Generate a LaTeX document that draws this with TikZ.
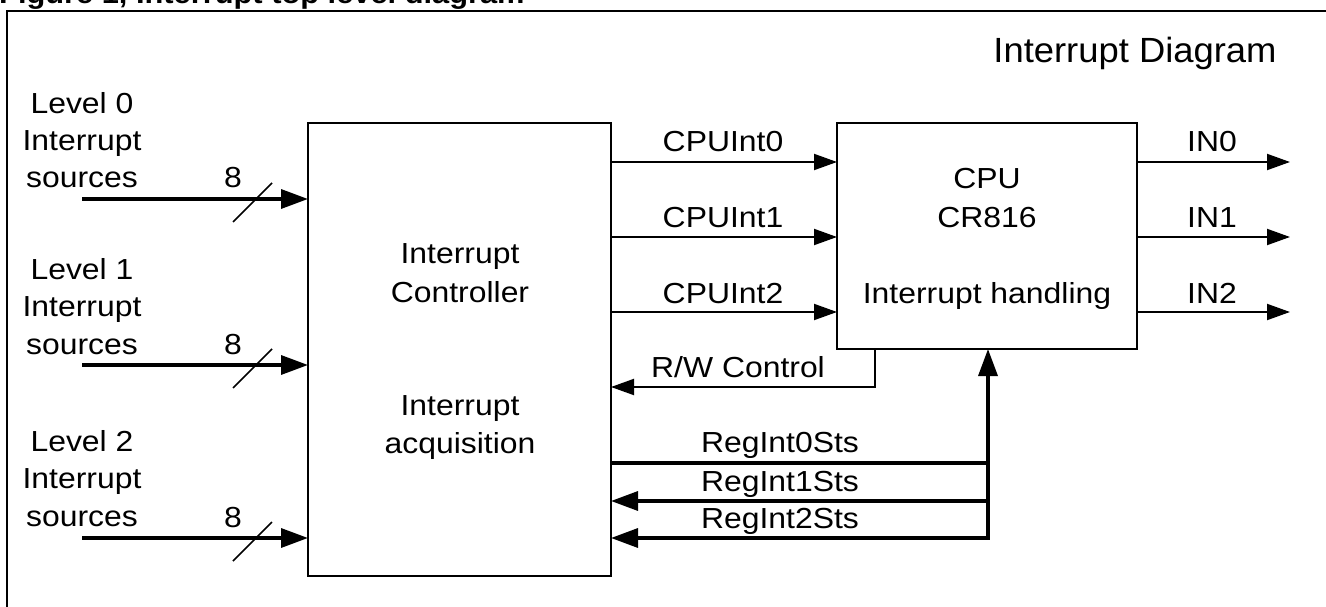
\documentclass[tikz,border=0pt]{standalone}
\usepackage{fontspec}
\setmainfont[FakeStretch=1.1]{Liberation Sans}
\newfontfamily\titlefont[FakeStretch=1.04]{Liberation Sans}
\usetikzlibrary{arrows.meta}
\begin{document}
\begin{tikzpicture}[x=1pt,y=-1pt,
  lbl/.style={inner sep=0pt, anchor=base, font=\fontsize{29}{35}\selectfont},
  box/.style={draw, line width=2pt, inner sep=0pt, outer sep=0pt},
  thinarr/.style={line width=2pt, -{Triangle[length=23pt,width=16pt]}},
  thickarr/.style={line width=3.4pt, -{Triangle[length=27pt,width=19pt]}},
  thickline/.style={line width=3.4pt},
  slashline/.style={line width=1.5pt},
  frameline/.style={line width=2pt}]
\useasboundingbox (0,0) rectangle (1326,607);
\clip (0,0) rectangle (1326,607);

% caption (cut at the top, as in the reference) and frame
\node[anchor=base west, inner sep=0pt, font=\bfseries\fontsize{28}{32}\selectfont] (cap) at (-1,3.5) {Figure 1, Interrupt top level diagram};
\draw[frameline] (7,640) -- (7,11) -- (1360,11);
\node[inner sep=0pt, anchor=base, font=\titlefont\fontsize{35}{40}\selectfont] (title) at (1135,63) {Interrupt Diagram};

% boxes
\node[box, minimum width=303pt, minimum height=453pt] (ctrl) at (459.5,349.5) {};
\node[box, minimum width=300pt, minimum height=226pt] (cpu) at (987,236) {};

% box texts
\node[lbl] (c1) at (460,263) {Interrupt};
\node[lbl] (c2) at (460,302) {Controller};
\node[lbl] (c3) at (460,415) {Interrupt};
\node[lbl] (c4) at (460,453) {acquisition};
\node[lbl] (p1) at (987,189) {CPU};
\node[lbl] (p2) at (987,227) {CR816};
\node[lbl] (p3) at (987,303) {Interrupt handling};

% input labels
\node[lbl] (l0a) at (82,114) {Level 0};
\node[lbl] (l0b) at (82,151) {Interrupt};
\node[lbl] (l0c) at (82,188) {sources};
\node[lbl] (l1a) at (82,279) {Level 1};
\node[lbl] (l1b) at (82,316) {Interrupt};
\node[lbl] (l1c) at (82,354) {sources};
\node[lbl] (l2a) at (82,451) {Level 2};
\node[lbl] (l2b) at (82,488) {Interrupt};
\node[lbl] (l2c) at (82,526) {sources};

% input arrows
\coordinate (s0) at (82,199);
\coordinate (s1) at (82,365);
\coordinate (s2) at (82,538);
\foreach \s in {s0,s1,s2}{
  \draw[thickarr] (\s) -- (\s -| ctrl.west);
  \draw[slashline] ([shift={(151,23)}]\s) -- ([shift={(190,-16)}]\s);
  \node[lbl] (n\s) at ([shift={(151,-11)}]\s) {8};
}

% CPUInt arrows
\coordinate (k0) at (724,162);
\coordinate (k1) at (724,237);
\coordinate (k2) at (724,312);
\draw[thinarr] (ctrl.east |- k0) -- (cpu.west |- k0);
\draw[thinarr] (ctrl.east |- k1) -- (cpu.west |- k1);
\draw[thinarr] (ctrl.east |- k2) -- (cpu.west |- k2);
\node[lbl] (k0t) at (723,152) {CPUInt0};
\node[lbl] (k1t) at (723,227) {CPUInt1};
\node[lbl] (k2t) at (723,303) {CPUInt2};

% outputs
\coordinate (o0) at (1290,162);
\coordinate (o1) at (1290,237);
\coordinate (o2) at (1290,312);
\draw[thinarr] (cpu.east |- o0) -- (o0);
\draw[thinarr] (cpu.east |- o1) -- (o1);
\draw[thinarr] (cpu.east |- o2) -- (o2);
\node[lbl] (o0t) at (1212,152) {IN0};
\node[lbl] (o1t) at (1212,227) {IN1};
\node[lbl] (o2t) at (1212,303) {IN2};

% R/W control
\coordinate (rw) at (875,387);
\draw[thinarr] (cpu.south -| rw) -- (rw) -- (ctrl.east |- rw);
\node[lbl] (rwt) at (738,377) {R/W Control};

% status lines
\coordinate (r0) at (988,463);
\coordinate (r1) at (988,501);
\coordinate (r2) at (988,538);
\draw[thickline] (ctrl.east |- r0) -- (r0);
\draw[thickarr] (r1) -- (ctrl.east |- r1);
\draw[thickline, {Triangle[length=27pt,width=19pt]}-{Triangle[length=27pt,width=19pt]}] (ctrl.east |- r2) -- (r2) -- (cpu.south -| r2);
\node[lbl] (r0t) at (780,452) {RegInt0Sts};
\node[lbl] (r1t) at (780,491) {RegInt1Sts};
\node[lbl] (r2t) at (780,528) {RegInt2Sts};
\end{tikzpicture}
\end{document}
